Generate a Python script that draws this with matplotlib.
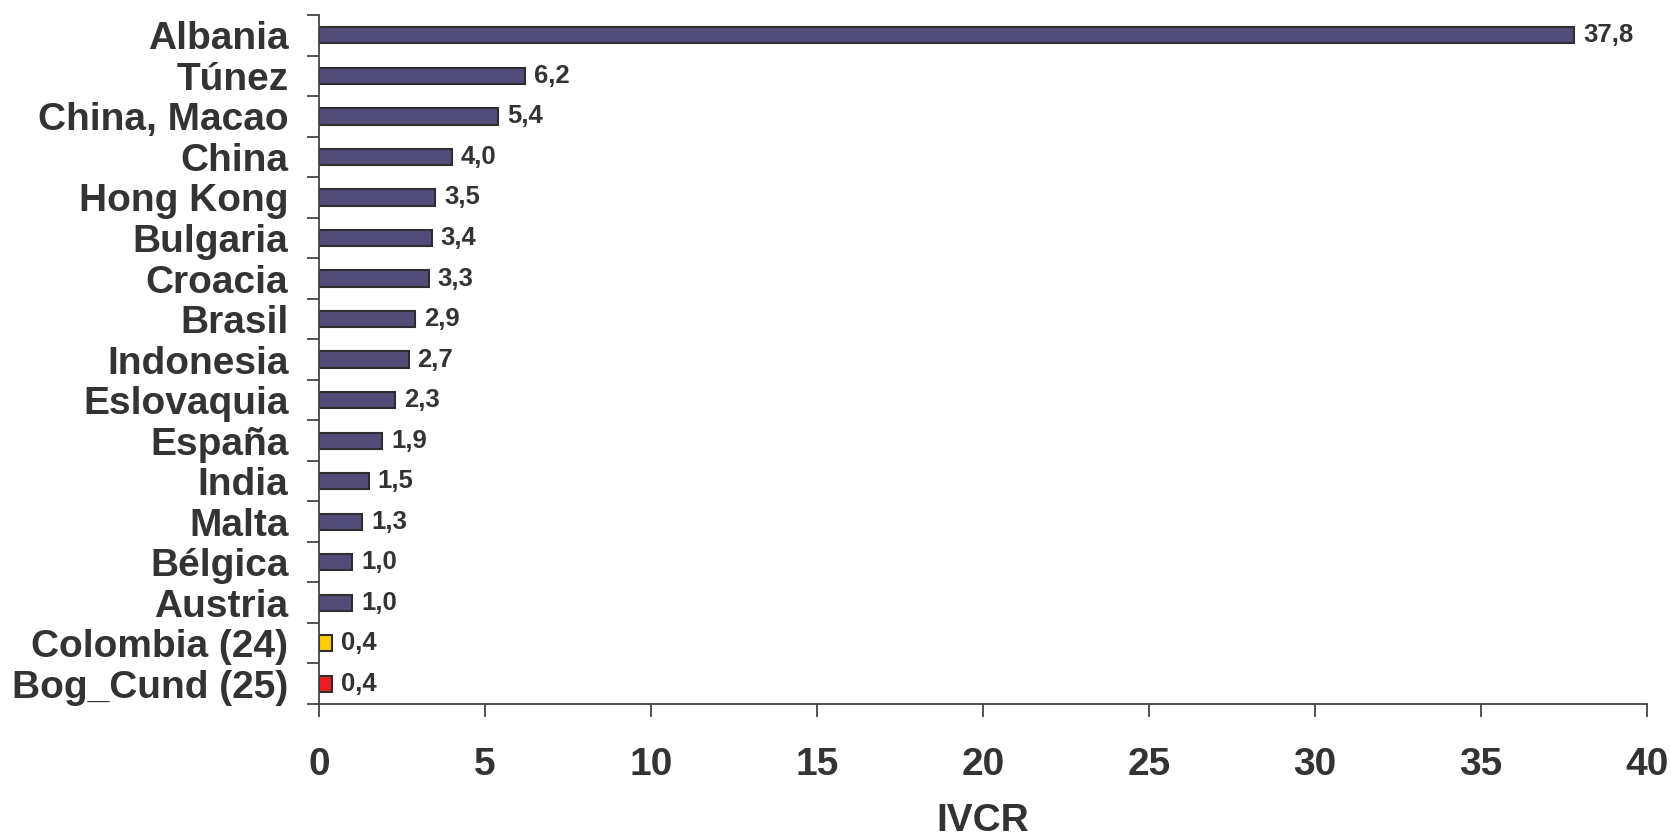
import matplotlib
matplotlib.use('Agg')
import matplotlib.pyplot as plt

plt.rcParams['font.family'] = ['Liberation Sans', 'DejaVu Sans']

# data (top to bottom as in the chart)
paises = ['Albania', 'Túnez', 'China, Macao', 'China', 'Hong Kong', 'Bulgaria',
          'Croacia', 'Brasil', 'Indonesia', 'Eslovaquia', 'España', 'India',
          'Malta', 'Bélgica', 'Austria', 'Colombia (24)', 'Bog_Cund (25)']
ivcr = [37.8, 6.2, 5.4, 4.0, 3.5, 3.4, 3.3, 2.9, 2.7, 2.3, 1.9, 1.5, 1.3,
        1.0, 1.0, 0.4, 0.4]
colores = ['#524c78'] * 15 + ['#ffcc00', '#ee1c25']
xticks = [0, 5, 10, 15, 20, 25, 30, 35, 40]

txt = '#333336'

fig = plt.figure(figsize=(16.71, 8.4), dpi=100)
ax = fig.add_axes([0.1909, 0.1619, 0.7947, 0.8201])

pos = list(range(len(paises)))
ax.barh(pos, ivcr, height=0.4, color=colores, edgecolor='#2e2e30', linewidth=1.5)

for y, v in zip(pos, ivcr):
    ax.text(v + 0.27, y, f'{v:.1f}'.replace('.', ','), va='center', ha='left',
            fontsize=18.5, fontweight='bold', color=txt)

ax.set_ylim(len(paises) - 0.5, -0.5)
ax.set_xlim(0, 40)
ax.set_xticks(xticks)
ax.set_xticklabels([str(t) for t in xticks], fontsize=28, fontweight='bold', color=txt)

# category labels centred, ticks between categories
ax.set_yticks(pos)
ax.set_yticklabels(paises, fontsize=28, fontweight='bold', color=txt)
ax.set_yticks([p - 0.5 for p in pos] + [len(paises) - 0.5], minor=True)
ax.tick_params(axis='y', which='major', length=0, pad=22)
ax.tick_params(axis='y', which='minor', length=9, width=1.3, color='#444444', direction='out')
ax.tick_params(axis='x', length=9, width=1.3, color='#444444', direction='out', pad=22)

ax.set_xlabel('IVCR', fontsize=28, fontweight='bold', color=txt, labelpad=14)

for s in ['top', 'right']:
    ax.spines[s].set_visible(False)
for s in ['left', 'bottom']:
    ax.spines[s].set_color('#444444')
    ax.spines[s].set_linewidth(1.3)

fig.savefig('out.png', dpi=100)
